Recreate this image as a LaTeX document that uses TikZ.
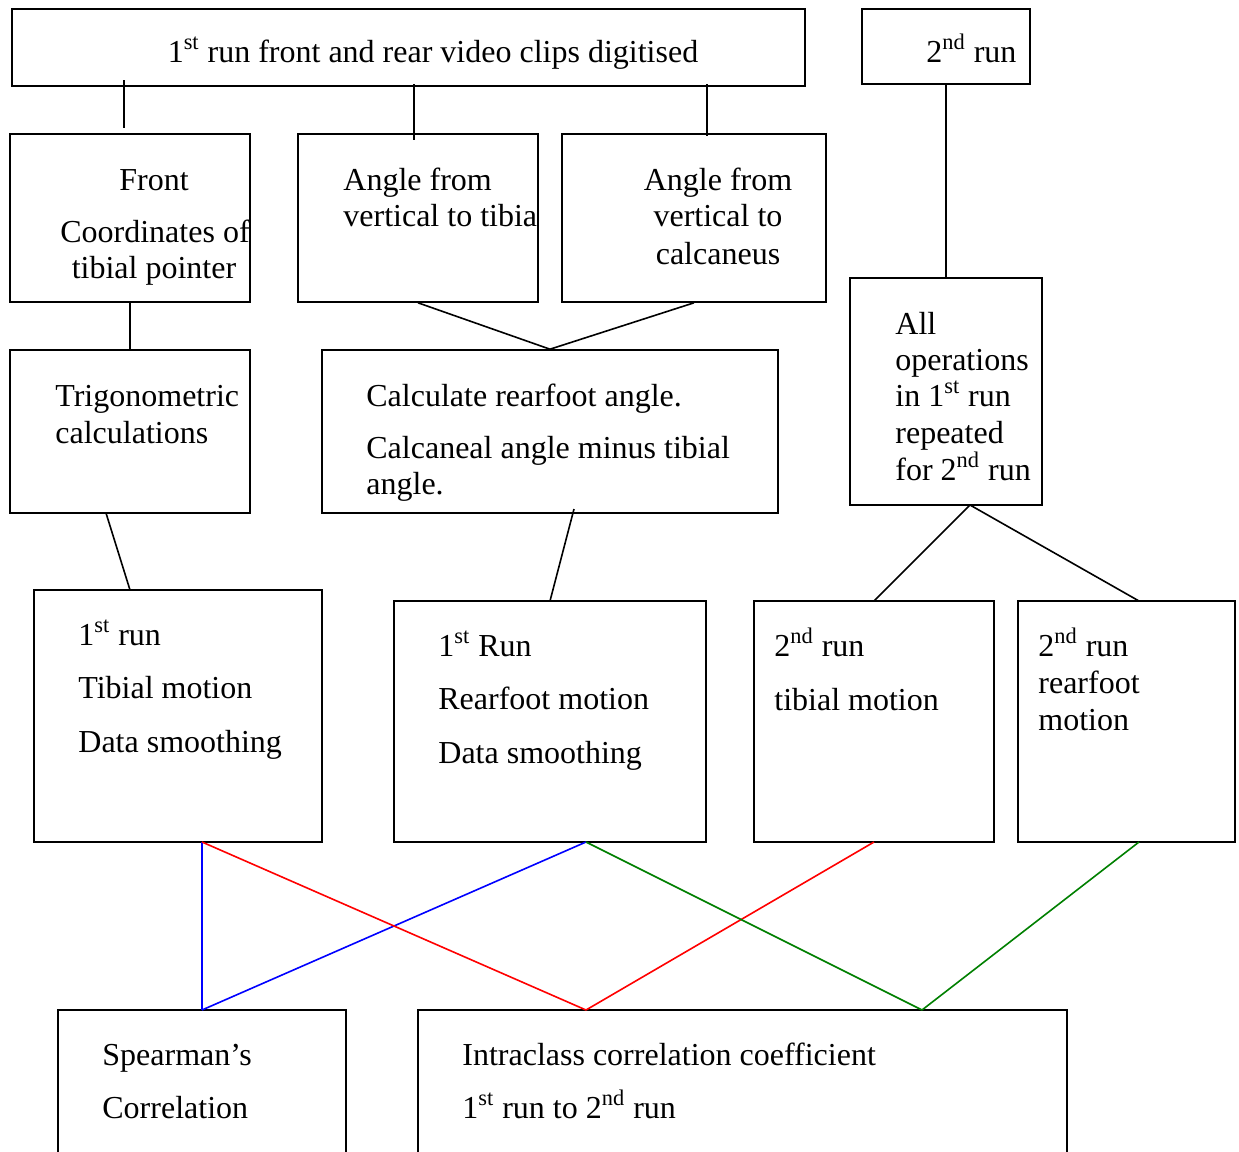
\documentclass[tikz,border=0pt]{standalone}
\usepackage{fontspec}
\setmainfont{Liberation Serif}
\usetikzlibrary{fit,calc}
\begin{document}
\begin{tikzpicture}[x=0.5pt,y=-0.5pt,
  box/.style={draw,line width=0.8pt,inner sep=0pt},
  txt/.style={anchor=base west,inner sep=0pt,font=\fontsize{16}{19}\selectfont},
  ctxt/.style={anchor=base,inner sep=0pt,font=\fontsize{16}{19}\selectfont},
  conn/.style={line width=0.8pt},
  every node/.append style={}]
\useasboundingbox (0,0) rectangle (1239,1152);
\fill[white] (0,0) rectangle (1239,1152);
% boxes
\node[box,fit={(12,9) (805,86)}] (top) {};
\node[box,fit={(862,9) (1030,84)}] (second) {};
\node[box,fit={(10,134) (250,302)}] (front) {};
\node[box,fit={(298,134) (538,302)}] (tibia) {};
\node[box,fit={(562,134) (826,302)}] (calcan) {};
\node[box,fit={(850,278) (1042,505)}] (allops) {};
\node[box,fit={(10,350) (250,513)}] (trig) {};
\node[box,fit={(322,350) (778,513)}] (rearcalc) {};
\node[box,fit={(34,590) (322,842)}] (tib1) {};
\node[box,fit={(394,601) (706,842)}] (rear1) {};
\node[box,fit={(754,601) (994,842)}] (tib2) {};
\node[box,fit={(1018,601) (1235,842)}] (rear2) {};
\node[box,fit={(58,1010) (346,1170)}] (spear) {};
\node[box,fit={(418,1010) (1067,1170)}] (icc) {};
% texts
\node[ctxt] (t1) at (433,62) {1\textsuperscript{st} run front and rear video clips digitised};
\node[txt] (t2) at (926,62) {2\textsuperscript{nd} run};
\node[ctxt] (t3) at (154,190) {Front};
\node[ctxt] (t4) at (155,242) {Coordinates of};
\node[ctxt] (t5) at (154,278) {tibial pointer};
\node[txt] (t6) at (343,190) {Angle from};
\node[txt] (t7) at (343,226) {vertical to tibia};
\node[ctxt] (t8) at (718,190) {Angle from};
\node[ctxt] (t9) at (718,226) {vertical to};
\node[ctxt] (t10) at (718,264) {calcaneus};
\node[txt] (t11) at (895,334) {All};
\node[txt] (t12) at (895,370) {operations};
\node[txt] (t13) at (895,406) {in 1\textsuperscript{st} run};
\node[txt] (t14) at (895,443) {repeated};
\node[txt] (t15) at (895,480) {for 2\textsuperscript{nd} run};
\node[txt] (t16) at (55,406) {Trigonometric};
\node[txt] (t17) at (55,443) {calculations};
\node[txt] (t18) at (366,406) {Calculate rearfoot angle.};
\node[txt] (t19) at (366,458) {Calcaneal angle minus tibial};
\node[txt] (t20) at (366,494) {angle.};
\node[txt] (t21) at (78,645) {1\textsuperscript{st} run};
\node[txt] (t22) at (78,698) {Tibial motion};
\node[txt] (t23) at (78,752) {Data smoothing};
\node[txt] (t24) at (438,656) {1\textsuperscript{st} Run};
\node[txt] (t25) at (438,709) {Rearfoot motion};
\node[txt] (t26) at (438,763) {Data smoothing};
\node[txt] (t27) at (774,656) {2\textsuperscript{nd} run};
\node[txt] (t28) at (774,710) {tibial motion};
\node[txt] (t29) at (1038,656) {2\textsuperscript{nd} run};
\node[txt] (t30) at (1038,693) {rearfoot};
\node[txt] (t31) at (1038,730) {motion};
\node[txt] (t32) at (102,1065) {Spearman’s};
\node[txt] (t33) at (102,1118) {Correlation};
\node[txt] (t34) at (462,1065) {Intraclass correlation coefficient};
\node[txt] (t35) at (462,1118) {1\textsuperscript{st} run to 2\textsuperscript{nd} run};
% connection points
\coordinate (a1) at (124,80);  \coordinate (a2) at (124,128);
\coordinate (b1) at (414,84);  \coordinate (b2) at (414,140);
\coordinate (c1) at (707,84);  \coordinate (c2) at (707,136);
\coordinate (trigB) at (106,513); \coordinate (tib1T) at (130,590);
\coordinate (rcB) at (574,509); \coordinate (rear1T) at (550,601);
\coordinate (aoB) at (970,505); \coordinate (tib2T) at (874,601); \coordinate (rear2T) at (1139,601);
\coordinate (tib1B) at (202,842); \coordinate (rear1B) at (586,842);
\coordinate (tib2B) at (874,842); \coordinate (rear2B) at (1139,842);
\coordinate (spT) at (202,1010); \coordinate (iccR) at (586,1010); \coordinate (iccG) at (922,1010);
% connectors
\draw[conn] (a1) -- (a2);
\draw[conn] (b1) -- (b2);
\draw[conn] (c1) -- (c2);
\draw[conn] (second.south -| 946,0) -- (allops.north -| 946,0);
\draw[conn] (front.south) -- (trig.north);
\draw[conn] (tibia.south) -- (rearcalc.north);
\draw[conn] (calcan.south) -- (rearcalc.north);
\draw[conn] (trigB) -- (tib1T);
\draw[conn] (rcB) -- (rear1T);
\draw[conn] (aoB) -- (tib2T);
\draw[conn] (aoB) -- (rear2T);
\draw[conn,blue] (tib1B) -- (spT);
\draw[conn,blue] (rear1B) -- (spT);
\draw[conn,red] (tib1B) -- (iccR);
\draw[conn,red] (tib2B) -- (iccR);
\definecolor{dgreen}{RGB}{0,128,0}
\draw[conn,dgreen] (rear1B) -- (iccG);
\draw[conn,dgreen] (rear2B) -- (iccG);
\end{tikzpicture}
\end{document}
